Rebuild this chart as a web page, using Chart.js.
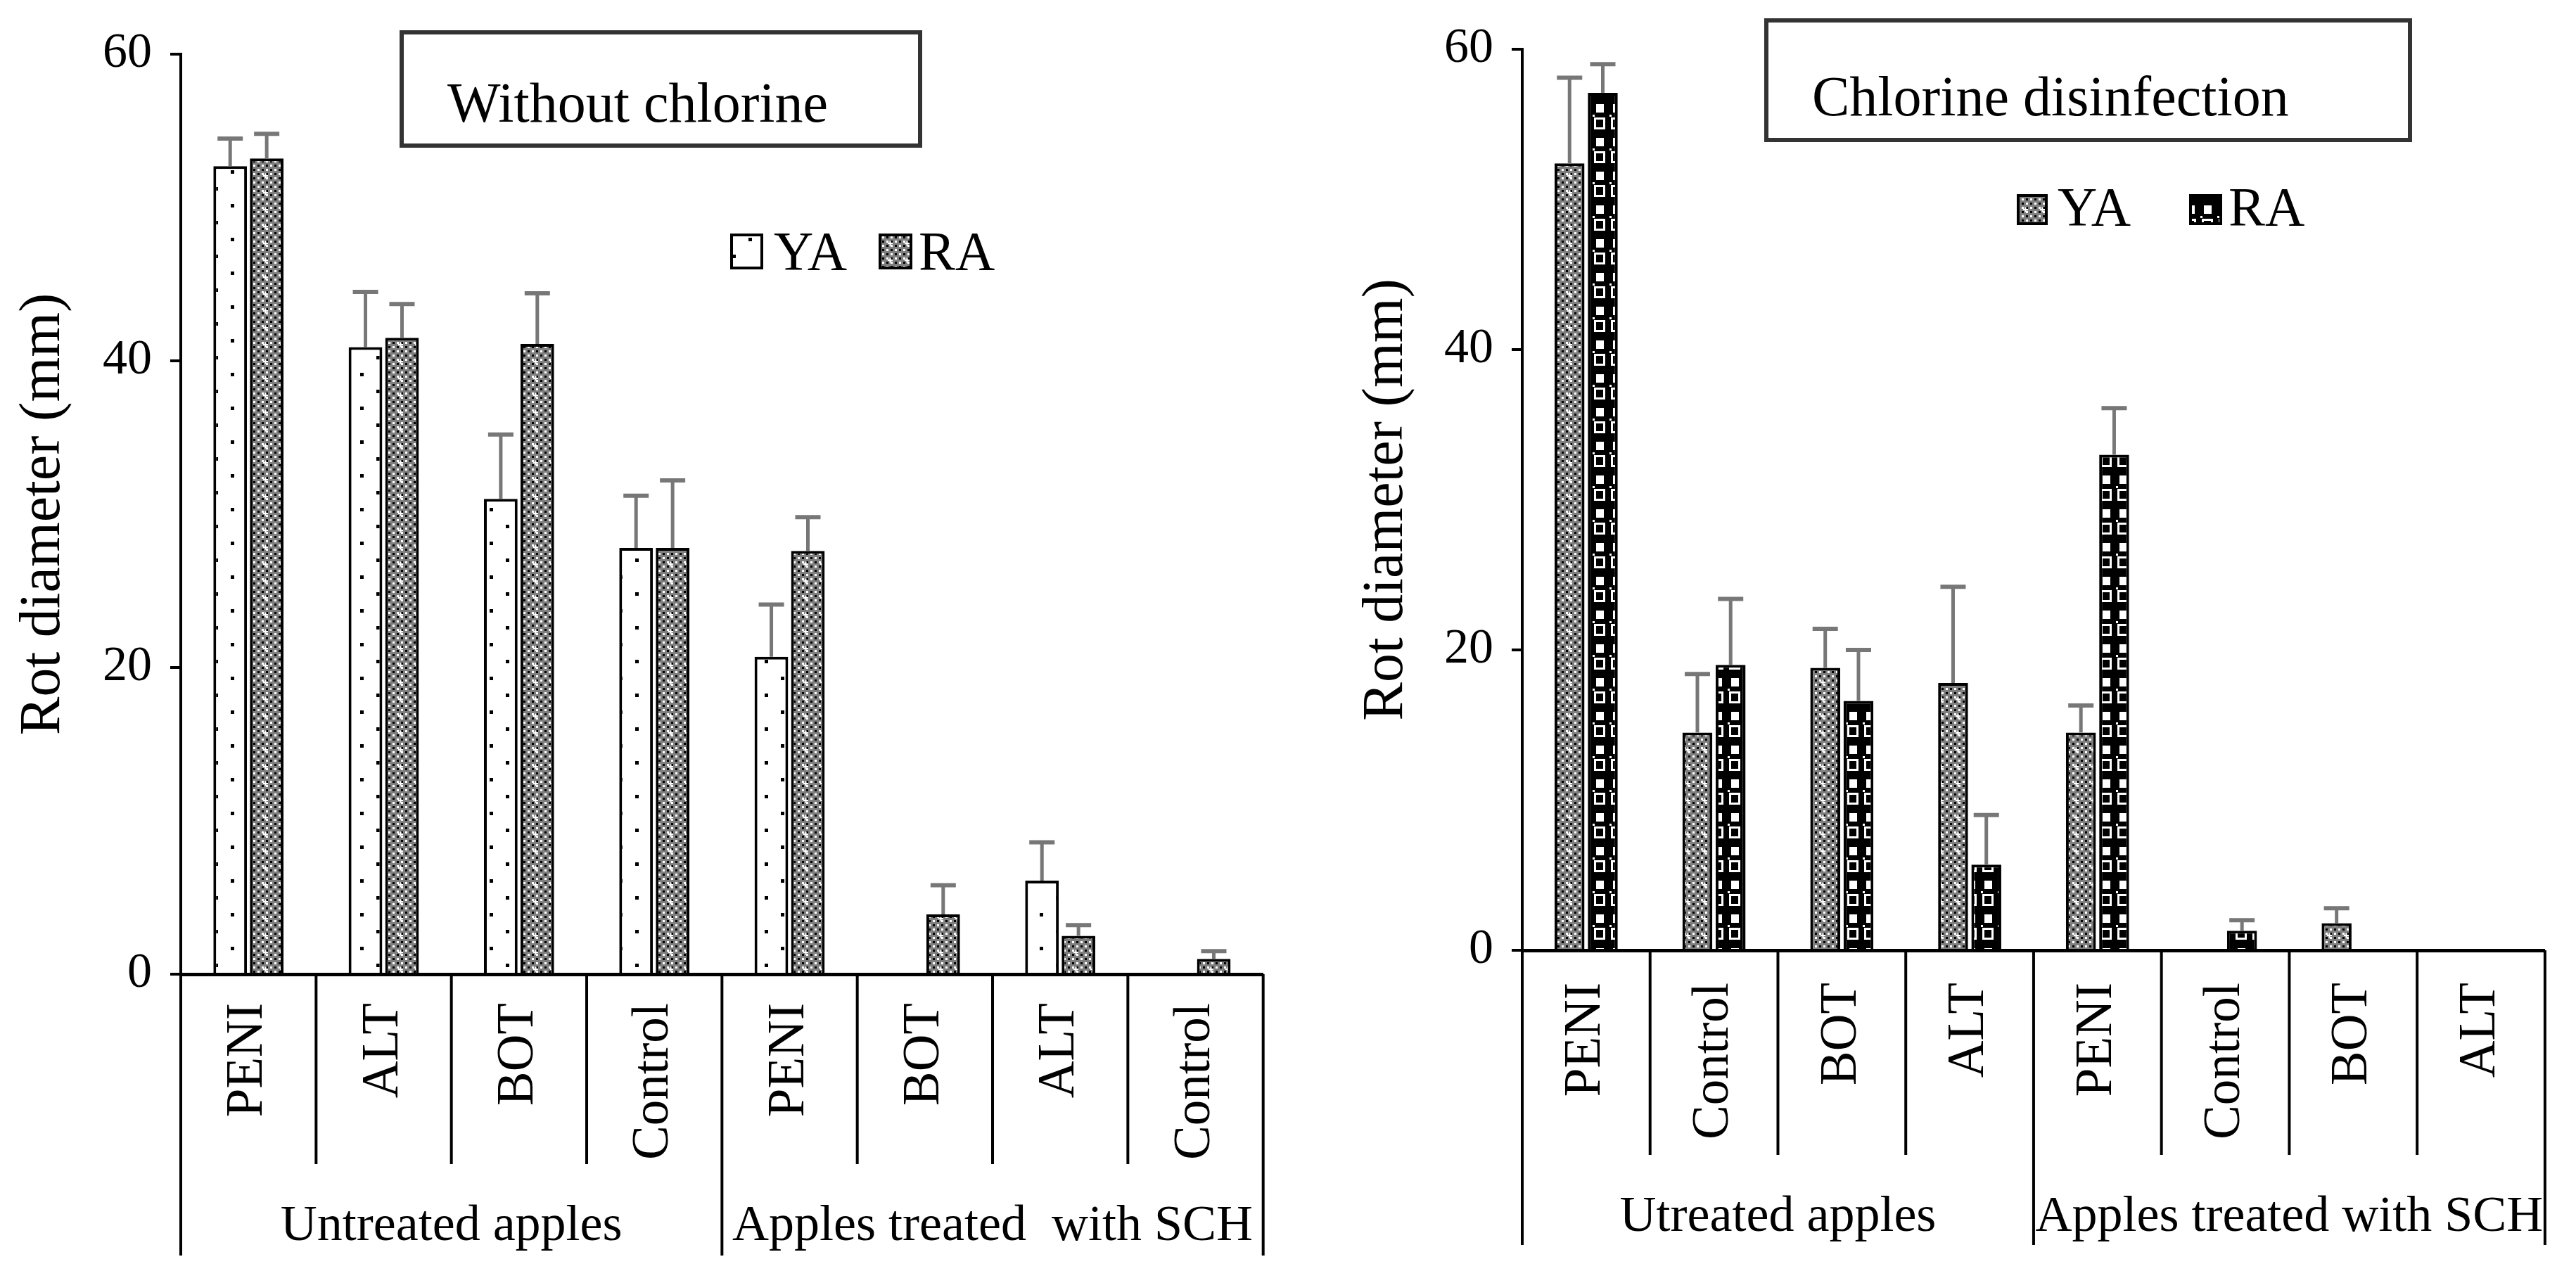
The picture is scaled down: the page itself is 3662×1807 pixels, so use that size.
<!DOCTYPE html>
<html>
<head>
<meta charset="utf-8">
<script src="https://cdn.jsdelivr.net/npm/chart.js@4.4.1/dist/chart.umd.min.js"></script>
<style>
    html, body { margin: 0; padding: 0; background: #fff; }
    #wrap { position: relative; width: 3662px; height: 1807px; overflow: hidden; }
    #leftChart { position: absolute; left: 0; top: 0; }
    #rightChart { position: absolute; left: 1830px; top: 0; }
</style>
</head>
<body>
<div id="wrap">
    <canvas id="leftChart" width="1830" height="1807"></canvas>
    <canvas id="rightChart" width="1832" height="1807"></canvas>
</div>
<script>
// ---------------------------------------------------------------
// DATA
// ---------------------------------------------------------------
const seriesNames = ['YA', 'RA'];
const axisTitle = 'Rot diameter (mm)';

// Left panel: without chlorine
const leftTitle = 'Without chlorine';
const leftCategories = ['PENI', 'ALT', 'BOT', 'Control', 'PENI', 'BOT', 'ALT', 'Control'];
const leftGroups = ['Untreated apples', 'Apples treated  with SCH'];
const leftGroupSpans = [4, 4];
const leftYA = [52.7, 40.9, 31.0, 27.8, 20.7, 0, 6.1, 0];
const leftYAErr = [1.8, 3.6, 4.2, 3.4, 3.4, 0, 2.5, 0];
const leftRA = [53.2, 41.5, 41.1, 27.8, 27.6, 3.9, 2.5, 1.0];
const leftRAErr = [1.6, 2.2, 3.3, 4.4, 2.2, 1.9, 0.7, 0.5];

// Right panel: chlorine disinfection
const rightTitle = 'Chlorine disinfection';
const rightCategories = ['PENI', 'Control', 'BOT', 'ALT', 'PENI', 'Control', 'BOT', 'ALT'];
const rightGroups = ['Utreated apples', 'Apples treated with SCH'];
const rightGroupSpans = [4, 4];
const rightYA = [52.4, 14.5, 18.8, 17.8, 14.5, 0, 1.8, 0];
const rightYAErr = [5.7, 3.9, 2.6, 6.4, 1.8, 0, 1.0, 0];
const rightRA = [57.1, 19.0, 16.6, 5.7, 33.0, 1.3, 0, 0];
const rightRAErr = [1.9, 4.4, 3.4, 3.3, 3.1, 0.7, 0, 0];

const yMin = 0, yMax = 60, yStep = 20;

// ---------------------------------------------------------------
// FONT + FILL PATTERNS
// ---------------------------------------------------------------
const FONT = "'Liberation Serif', 'Times New Roman', serif";
function serif(size) { return size + 'px ' + FONT; }
Chart.defaults.font.family = FONT;
Chart.defaults.color = '#000';

function makePattern(w, h, draw) {
    const tile = document.createElement('canvas');
    tile.width = w; tile.height = h;
    const t = tile.getContext('2d');
    draw(t);
    return t.createPattern(tile, 'repeat');
}

// white with sparse dots
const dotsPattern = makePattern(46, 48, t => {
    t.fillStyle = '#fff'; t.fillRect(0, 0, 46, 48);
    t.fillStyle = '#000';
    t.fillRect(6, 2, 5, 5);
    t.fillRect(29, 26, 5, 5);
});

// gray, black and white dot checker
const checkerPattern = makePattern(24, 24, t => {
    t.fillStyle = '#7f7f7f'; t.fillRect(0, 0, 24, 24);
    for (let i = 0; i < 4; i++) {
        for (let j = 0; j < 4; j++) {
            t.fillStyle = (i + j) % 2 === 0 ? '#000' : '#fff';
            t.fillRect(i * 6, j * 6, 3, 3);
        }
    }
    t.fillStyle = '#fff';
    t.fillRect(14, 9, 7, 2);
    t.fillRect(16.5, 6.5, 2, 7);
});

// black with white chain links
const chainPattern = makePattern(24, 48, t => {
    t.fillStyle = '#000'; t.fillRect(0, 0, 24, 48);
    t.fillStyle = '#fff';
    t.fillRect(7, 4, 11, 12);
    t.strokeStyle = '#fff'; t.lineWidth = 3;
    t.strokeRect(5.5, 24.5, 13, 14);
    t.fillRect(2, 19, 3, 3);
});

// ---------------------------------------------------------------
// PANEL BUILDER
// ---------------------------------------------------------------
function buildPanel(canvasId, p) {
    const ctx = document.getElementById(canvasId).getContext('2d');

    // error bars (upper only)
    const errorBars = {
        id: 'errorBars',
        afterDatasetsDraw(chart) {
            const c = chart.ctx, yScale = chart.scales.y;
            c.save();
            c.strokeStyle = '#777';
            chart.data.datasets.forEach((ds, di) => {
                const meta = chart.getDatasetMeta(di);
                ds.errors.forEach((e, i) => {
                    if (!e || !ds.data[i]) return;
                    const bar = meta.data[i];
                    const yTop = yScale.getPixelForValue(ds.data[i] + e);
                    c.lineWidth = 5;
                    c.beginPath(); c.moveTo(bar.x, bar.y); c.lineTo(bar.x, yTop); c.stroke();
                    c.lineWidth = 6;
                    c.beginPath(); c.moveTo(bar.x - 18, yTop); c.lineTo(bar.x + 18, yTop); c.stroke();
                });
            });
            c.restore();
        }
    };

    // separators, group labels, title box and legend
    const decor = {
        id: 'decor',
        afterDraw(chart) {
            const c = chart.ctx, xs = chart.scales.x, area = chart.chartArea;
            const n = chart.data.labels.length;
            const step = xs.getPixelForValue(1) - xs.getPixelForValue(0);
            const edges = [];
            for (let i = 0; i <= n; i++) edges.push(xs.getPixelForValue(0) + (i - 0.5) * step);
            const groupEdges = [0];
            let k = 0;
            p.groupSpans.forEach(s => { k += s; groupEdges.push(k); });

            c.save();
            c.strokeStyle = '#000';
            c.lineWidth = 4;
            edges.forEach((x, i) => {
                const long = groupEdges.includes(i);
                c.beginPath();
                c.moveTo(x, area.bottom);
                c.lineTo(x, long ? p.frameBottom : p.sepBottom);
                c.stroke();
            });

            c.fillStyle = '#000';
            c.font = serif(72);
            c.textAlign = 'center';
            c.textBaseline = 'alphabetic';
            p.groups.forEach((g, gi) => {
                const x0 = edges[groupEdges[gi]], x1 = edges[groupEdges[gi + 1]];
                c.fillText(g, (x0 + x1) / 2, p.groupY);
            });

            // title box
            const b = p.titleBox;
            c.strokeStyle = '#333';
            c.lineWidth = 6;
            c.strokeRect(b.x, b.y, b.w, b.h);
            c.font = serif(80);
            c.textAlign = 'left';
            c.fillText(p.title, b.textX, b.textY);

            // legend
            chart.data.datasets.forEach((ds, di) => {
                const L = p.legend[di];
                c.fillStyle = ds.backgroundColor;
                c.fillRect(L.x, L.y, L.w, L.h);
                c.strokeStyle = '#000';
                c.lineWidth = 4;
                c.strokeRect(L.x + 2, L.y + 2, L.w - 4, L.h - 4);
                c.fillStyle = '#000';
                c.font = serif(78);
                c.fillText(ds.label, L.textX, p.legendY);
            });
            c.restore();
        }
    };

    return new Chart(ctx, {
        type: 'bar',
        data: {
            labels: p.labels,
            datasets: [
                { label: seriesNames[0], data: p.ya, errors: p.yaErr, backgroundColor: p.yaFill,
                  borderColor: '#000', borderWidth: 4 },
                { label: seriesNames[1], data: p.ra, errors: p.raErr, backgroundColor: p.raFill,
                  borderColor: '#000', borderWidth: 4 }
            ]
        },
        options: {
            responsive: false,
            animation: false,
            devicePixelRatio: 1,
            layout: { padding: { left: 0, right: p.padRight, top: p.padTop, bottom: 0 } },
            datasets: { bar: { categoryPercentage: p.catPct, barPercentage: p.barPct } },
            plugins: {
                legend: { display: false },
                tooltip: { enabled: false },
                title: { display: false }
            },
            scales: {
                x: {
                    grid: { display: false, drawTicks: false },
                    border: { display: true, color: '#000', width: 5 },
                    ticks: {
                        color: '#000',
                        font: { family: FONT, size: 73 },
                        minRotation: 90, maxRotation: 90,
                        autoSkip: false,
                        padding: p.labelPad
                    },
                    afterFit(scale) { scale.height = p.xHeight; }
                },
                y: {
                    min: yMin, max: yMax,
                    grid: { drawOnChartArea: false, color: '#000', lineWidth: 4, tickLength: 15 },
                    border: { display: true, color: '#000', width: 4 },
                    ticks: { stepSize: yStep, color: '#000', font: { family: FONT, size: 70 }, padding: 26 },
                    title: {
                        display: true, text: axisTitle, color: '#000',
                        font: { family: FONT, size: 82 },
                        padding: { top: p.titlePad, bottom: 0 }
                    },
                    afterFit(scale) { scale.width = p.yWidth; }
                }
            }
        },
        plugins: [errorBars, decor]
    });
}

document.addEventListener('DOMContentLoaded', function () {
    buildPanel('leftChart', {
        labels: leftCategories, groups: leftGroups, groupSpans: leftGroupSpans,
        ya: leftYA, yaErr: leftYAErr, ra: leftRA, raErr: leftRAErr,
        yaFill: dotsPattern, raFill: checkerPattern,
        title: leftTitle,
        padTop: 77, padRight: 30, yWidth: 257, xHeight: 422,
        catPct: 0.54, barPct: 0.92, labelPad: 41, titlePad: 13,
        sepBottom: 1655, frameBottom: 1785, groupY: 1763,
        titleBox: { x: 571, y: 46, w: 737, h: 161, textX: 636, textY: 173 },
        legend: [
            { x: 1038, y: 332, w: 47, h: 51, textX: 1100 },
            { x: 1249, y: 332, w: 48, h: 51, textX: 1306 }
        ],
        legendY: 383
    });

    buildPanel('rightChart', {
        labels: rightCategories, groups: rightGroups, groupSpans: rightGroupSpans,
        ya: rightYA, yaErr: rightYAErr, ra: rightRA, raErr: rightRAErr,
        yaFill: checkerPattern, raFill: chainPattern,
        title: rightTitle,
        padTop: 70, padRight: 22, yWidth: 334, xHeight: 456,
        catPct: 0.52, barPct: 0.9, labelPad: 46, titlePad: 92,
        sepBottom: 1642, frameBottom: 1770, groupY: 1750,
        titleBox: { x: 681, y: 29, w: 915, h: 170, textX: 746, textY: 164 },
        legend: [
            { x: 1037, y: 276, w: 44, h: 44, textX: 1095 },
            { x: 1282, y: 276, w: 47, h: 44, textX: 1338 }
        ],
        legendY: 320
    });
});
</script>
</body>
</html>
